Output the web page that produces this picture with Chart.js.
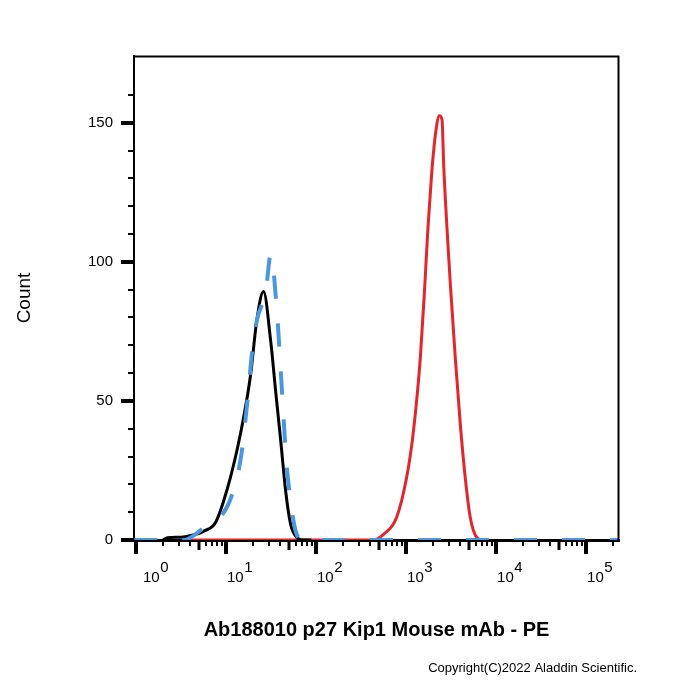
<!DOCTYPE html>
<html><head><meta charset="utf-8">
<script src="https://cdn.jsdelivr.net/npm/chart.js@4.4.1/dist/chart.umd.min.js"></script>
<style>html,body{margin:0;padding:0;background:#fff}#wrap{width:700px;height:700px;position:relative}</style>
</head><body><div id="wrap"><canvas id="c"></canvas></div>
<script>
const xTitle = 'Ab188010 p27 Kip1 Mouse mAb - PE';
const yTitle = 'Count';
const copyright = 'Copyright(C)2022 Aladdin Scientific.';
const xDecadeExponents = [0, 1, 2, 3, 4, 5];
const yTickLabels = [0, 50, 100, 150];

// black solid
const blackX = [2.0, 2.24, 3.16, 3.98, 5.68, 7.71, 10.4, 13.4, 15.9, 18.8, 21.9, 26.1, 31.4, 35.6, 40.6, 46.0, 52.2, 62.1, 72.9, 89];
const blackY = [0, 0.8, 1, 1.5, 3.2, 6.5, 18.7, 33, 45, 59.6, 78.6, 89.3, 71.4, 53.5, 35.5, 17.6, 5.7, 0.7, 0, 0];
// blue dashed
const blueX = [0.96, 3.40, 5.68, 7.9, 11.3, 14.6, 17.3, 19.7, 22.3, 27.6, 31.4, 36.6, 39.8, 43.0, 46.5, 52.2, 59.4, 70.5, 230000];
const blueY = [0, 0, 4.3, 7, 15, 29.4, 49.9, 68.9, 79.7, 89, 102.6, 83.2, 65.3, 47.4, 29.4, 14, 3.2, 0, 0];
// red solid
const redX = [3.4, 435, 562, 783, 1009, 1177, 1337, 1445, 1600, 1749, 1855, 1962, 2144, 2344, 2512, 2618, 2851, 3105, 3532, 4009, 4560, 5176, 6138, 7079];
const redY = [0, 0, 2, 8, 22, 36, 53, 66, 89, 112, 124, 135, 147, 152.5, 151, 135, 112, 92, 65, 41.5, 22, 8, 0.8, 0];

const FONT = '"Liberation Sans", Arial, Helvetica, sans-serif';
const pts = (xs, ys) => xs.map((v, i) => ({x: v, y: ys[i]}));

const axisDecor = {
  id: 'axisDecor',
  afterDraw(chart) {
    const {ctx, chartArea: a, scales: {x, y}} = chart;
    ctx.save();
    ctx.strokeStyle = '#000';
    ctx.fillStyle = '#000';
    ctx.lineCap = 'butt';
    // top and right frame
    ctx.lineWidth = 2;
    ctx.beginPath();
    ctx.moveTo(a.left, a.top + 0.5);
    ctx.lineTo(a.right - 0.5, a.top + 0.5);
    ctx.lineTo(a.right - 0.5, a.bottom);
    ctx.stroke();
    // y ticks
    y.ticks.forEach(t => {
      if (t.value % 10 !== 0) return;
      const py = Math.round(y.getPixelForValue(t.value));
      const major = yTickLabels.includes(t.value);
      ctx.lineWidth = major ? 4 : 2;
      const len = major ? 13 : 6;
      ctx.beginPath();
      ctx.moveTo(a.left - len, py);
      ctx.lineTo(a.left, py);
      ctx.stroke();
    });
    // x ticks
    xDecadeExponents.forEach(e => {
      for (let m = 1; m <= 9; m++) {
        const v = m * Math.pow(10, e);
        if (v < x.min || v > x.max) continue;
        const px = Math.round(x.getPixelForValue(v));
        let len = 6, w = 2;
        if (m === 1) { len = 14; w = 4; }
        else if (m === 5) { len = 10; w = 3; }
        ctx.lineWidth = w;
        ctx.beginPath();
        ctx.moveTo(px, a.bottom);
        ctx.lineTo(px, a.bottom + len);
        ctx.stroke();
      }
    });
    // x tick labels 10^n
    ctx.font = '15px ' + FONT;
    ctx.textAlign = 'left';
    ctx.textBaseline = 'alphabetic';
    xDecadeExponents.forEach(e => {
      const px = x.getPixelForValue(Math.pow(10, e));
      const lx = Math.max(px + 1, a.left + 9);
      ctx.fillText('10', lx, a.bottom + 42);
      const w10 = ctx.measureText('10').width;
      ctx.fillText(String(e), lx + w10 + 0.5, a.bottom + 32);
    });
    // copyright
    ctx.font = '13px ' + FONT;
    ctx.textAlign = 'right';
    ctx.textBaseline = 'middle';
    ctx.fillText(copyright, 637, 668);
    ctx.restore();
  }
};

new Chart(document.getElementById('c'), {
  type: 'line',
  data: {
    datasets: [
      {label: 'blue', data: pts(blueX, blueY), borderColor: '#4a97e0', borderWidth: 4, borderDash: [23, 25], pointRadius: 0, cubicInterpolationMode: 'monotone', order: 0, fill: false},
      {label: 'black', data: pts(blackX, blackY), borderColor: '#000000', borderWidth: 3, pointRadius: 0, cubicInterpolationMode: 'monotone', order: 1, fill: false},
      {label: 'red', data: pts(redX, redY), borderColor: '#e2262c', borderWidth: 3, pointRadius: 0, cubicInterpolationMode: 'monotone', order: 2, fill: false}
    ]
  },
  options: {
    responsive: true,
    maintainAspectRatio: false,
    animation: false,
    devicePixelRatio: 1,
    layout: {padding: {top: 56, right: 81, left: 0, bottom: 0}},
    plugins: {legend: {display: false}, tooltip: {enabled: false}},
    scales: {
      x: {
        type: 'logarithmic',
        min: 0.951,
        max: 232000,
        grid: {display: false, drawTicks: false},
        border: {display: true, color: '#000', width: 3},
        ticks: {display: false},
        title: {display: true, text: xTitle, color: '#000', font: {family: FONT, size: 20, weight: 'bold'}, padding: {top: 0, bottom: 57.5}},
        afterFit: s => { s.height = 160; }
      },
      y: {
        type: 'linear',
        min: 0,
        max: 174,
        grid: {display: false, drawTicks: false},
        border: {display: true, color: '#000', width: 2},
        ticks: {
          stepSize: 10,
          autoSkip: false,
          padding: 21,
          color: '#000',
          font: {family: FONT, size: 15},
          callback: v => yTickLabels.includes(v) ? String(v) : ''
        },
        title: {display: true, text: yTitle, color: '#000', font: {family: FONT, size: 19}, padding: {top: 13.6, bottom: 0}},
        afterFit: s => { s.width = 134; }
      }
    }
  },
  plugins: [axisDecor]
});
</script>
</body></html>
